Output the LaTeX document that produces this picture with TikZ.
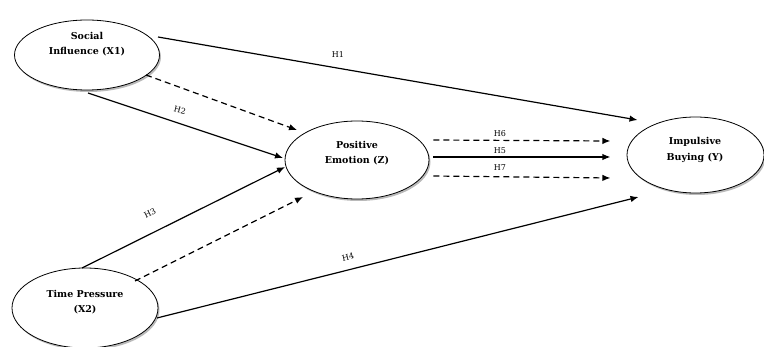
\documentclass[tikz,border=0pt]{standalone}
\usepackage{fontspec}
\setmainfont{DejaVu Serif}
\usetikzlibrary{arrows.meta,shapes.geometric,shadows}
\begin{document}
\begin{tikzpicture}[x=1pt,y=-1pt,
  var/.style={ellipse, draw, line width=0.8pt, fill=white, inner sep=0pt,
    drop shadow={shadow xshift=1.5pt, shadow yshift=-2pt, fill=black!45, opacity=0.6}},
  vtext/.style={align=center, font=\fontsize{9.5}{15.5}\selectfont\bfseries},
  link/.style={line width=1.2pt, -{Latex[length=8pt,width=6.5pt]}},
  dlink/.style={link, dash pattern=on 6pt off 4pt},
  hlab/.style={font=\fontsize{8}{9}\selectfont, inner sep=1pt}]
\useasboundingbox (0,0) rectangle (764,347);

% constructs
\node[var, minimum width=145pt, minimum height=70pt] (x1) at (87,55) {};
\node[var, minimum width=144pt, minimum height=78pt] (z)  at (357,160) {};
\node[var, minimum width=137pt, minimum height=76pt] (y)  at (695.5,155) {};
\node[var, minimum width=146pt, minimum height=80pt] (x2) at (85,308) {};

\node[vtext] (x1t) at (87,44) {Social\\Influence (X1)};
\node[vtext] (zt)  at (357,153) {Positive\\Emotion (Z)};
\node[vtext] (yt)  at (695,150) {Impulsive\\Buying (Y)};
\node[vtext] (x2t) at (85,302) {Time Pressure\\(X2)};

% hypothesised paths
\draw[link]  ([shift={(71,-18)}]x1.center) -- ([shift={(-58,-35)}]y.center);
\draw[dlink] ([shift={(59,20)}]x1.center)  -- ([shift={(-60,-30)}]z.center);
\draw[link]  ([shift={(1,38)}]x1.center)   -- ([shift={(-74,-2)}]z.center);
\draw[link]  ([shift={(-3,-40)}]x2.center) -- ([shift={(-72,7)}]z.center);
\draw[dlink] ([shift={(50,-27)}]x2.center) -- ([shift={(-54,37)}]z.center);
\draw[link]  ([shift={(72,10)}]x2.center)  -- ([shift={(-57,42)}]y.center);

% mediation paths
\draw[dlink] ([shift={(4,-20)}]z.east) -- ([shift={(181,-19)}]z.east);
\draw[link]  ([shift={(4,-3)}]z.east)  -- ([shift={(181,-3)}]z.east);
\draw[dlink] ([shift={(4,16)}]z.east)  -- ([shift={(181,18)}]z.east);

% labels
\node[hlab] (h1) at (338,55) {H1};
\node[hlab, rotate=-14] (h2) at (180,110) {H2};
\node[hlab, rotate=27] (h3) at (150,213) {H3};
\node[hlab, rotate=14] (h4) at (348,257) {H4};
\node[hlab] (h6) at (500,134) {H6};
\node[hlab] (h5) at (500,151) {H5};
\node[hlab] (h7) at (500,168) {H7};
\end{tikzpicture}
\end{document}
